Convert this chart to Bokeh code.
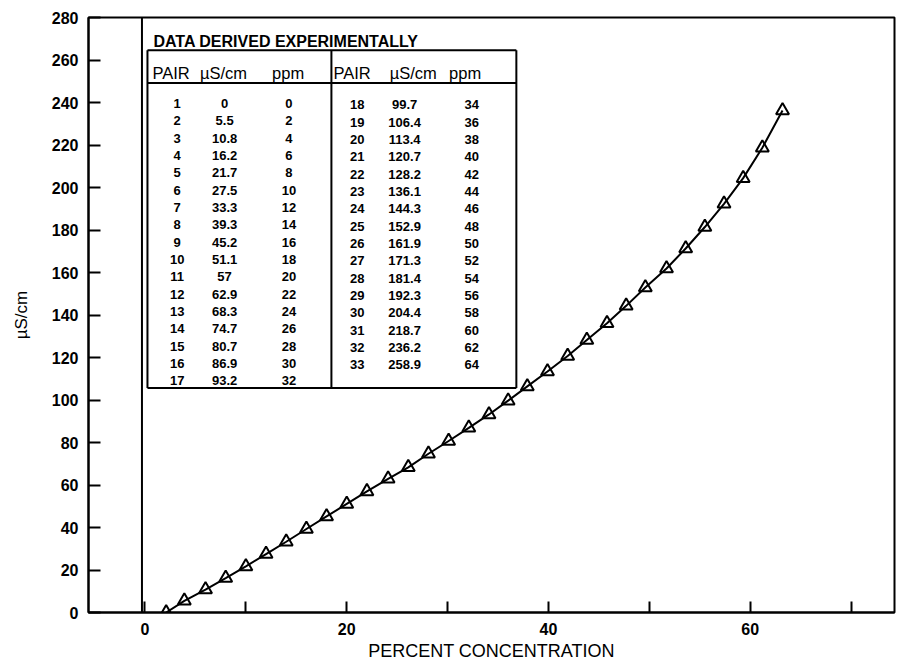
from bokeh.plotting import figure
from bokeh.models import FixedTicker, Range1d, Span
from bokeh.core.properties import value
from bokeh.embed import file_html
from bokeh.resources import INLINE

# ---------------- data ----------------
pair = list(range(1, 34))
us_cm = [0, 5.5, 10.8, 16.2, 21.7, 27.5, 33.3, 39.3, 45.2, 51.1, 57, 62.9, 68.3,
         74.7, 80.7, 86.9, 93.2, 99.7, 106.4, 113.4, 120.7, 128.2, 136.1, 144.3,
         152.9, 161.9, 171.3, 181.4, 192.3, 204.4, 218.7, 236.2, 258.9]
ppm = [0, 2, 4, 6, 8, 10, 12, 14, 16, 18, 20, 22, 24, 26, 28, 30, 32, 34, 36,
       38, 40, 42, 44, 46, 48, 50, 52, 54, 56, 58, 60, 62, 64]
# plotted curve (percent concentration vs uS/cm)
pct_conc = [2.1, 3.9, 6.0, 8.0, 10.0, 12.0, 14.0, 16.0, 18.0, 20.0, 22.0, 24.1,
            26.1, 28.1, 30.1, 32.1, 34.1, 36.0, 37.9, 39.9, 41.9, 43.8, 45.8,
            47.7, 49.6, 51.7, 53.6, 55.5, 57.4, 59.3, 61.2, 63.2]
curve_us = us_cm[:32]
x_ticks = [0, 20, 40, 60]
x_minor_ticks = [10, 30, 50, 70]
y_ticks = [0, 20, 40, 60, 80, 100, 120, 140, 160, 180, 200, 220, 240, 260, 280]

FONT = value("Liberation Sans")

p = figure(width=896, height=663, output_backend="svg", toolbar_location=None,
           x_range=Range1d(-5.6, 74.3), y_range=Range1d(0, 280),
           min_border_left=88, min_border_top=17, min_border_right=2,
           min_border_bottom=50)
p.grid.visible = False
p.outline_line_color = "black"
p.outline_line_width = 2
p.background_fill_color = "white"
p.border_fill_color = "white"

# axes
xa = p.xaxis[0]
xa.ticker = FixedTicker(ticks=x_ticks, minor_ticks=x_minor_ticks)
xa.major_tick_in = 11
xa.major_tick_out = 0
xa.minor_tick_in = 11
xa.minor_tick_out = 0
xa.major_tick_line_width = 2
xa.minor_tick_line_width = 2
xa.axis_line_width = 2
xa.major_label_standoff = 10
xa.axis_label = "PERCENT CONCENTRATION"
xa.axis_label_standoff = 3

ya = p.yaxis[0]
ya.ticker = FixedTicker(ticks=y_ticks)
ya.major_tick_in = 12
ya.major_tick_out = 0
ya.minor_tick_line_color = None
ya.major_tick_line_width = 2
ya.axis_line_width = 2
ya.major_label_standoff = 10
ya.axis_label = "\u00b5S/cm"
ya.axis_label_standoff = 18

for ax in (xa, ya):
    ax.major_label_text_font = "Liberation Sans"
    ax.major_label_text_font_style = "bold"
    ax.major_label_text_font_size = "16px"
    ax.major_label_text_color = "black"
    ax.axis_label_text_font = "Liberation Sans"
    ax.axis_label_text_font_style = "normal"
    ax.axis_label_text_color = "black"
    ax.axis_line_color = "black"
    ax.major_tick_line_color = "black"
xa.axis_label_text_font_size = "18px"
ya.axis_label_text_font_size = "17px"

# vertical line at zero concentration
p.add_layout(Span(location=-0.3, dimension="height", line_color="black", line_width=2))

# curve
p.line(pct_conc, curve_us, line_color="black", line_width=2)
p.scatter(pct_conc, curve_us, marker="triangle", size=13, line_color="black",
          line_width=2, fill_color=None)

# ---------------- table (positions from reference layout) ----------------
def dx(px):
    return (px - 145.5) / 10.2

def dy(py):
    return (616 - py) / 2.139

L, R, T, B = 148, 521, 50, 390
MID, HDR = 334, 83
p.segment(x0=[dx(L), dx(L), dx(L), dx(R), dx(MID), dx(L)],
          y0=[dy(T), dy(B), dy(T), dy(T), dy(T), dy(HDR)],
          x1=[dx(R), dx(R), dx(L), dx(R), dx(MID), dx(R)],
          y1=[dy(T), dy(B), dy(B), dy(B), dy(B), dy(HDR)],
          line_color="black", line_width=2)

p.text(x=[dx(154)], y=[dy(41.5)], text=["DATA DERIVED EXPERIMENTALLY"],
       text_font=FONT, text_font_style="bold", text_font_size="16px",
       text_align="left", text_baseline="alphabetic", text_color="black")

hdr_x = [153, 201, 274, 336, 393, 453]
hdr_t = ["PAIR", "\u00b5S/cm", "ppm", "PAIR", "\u00b5S/cm", "ppm"]
p.text(x=[dx(v) for v in hdr_x], y=[dy(73)] * 6, text=hdr_t,
       text_font=FONT, text_font_size="16.5px", text_align="left",
       text_baseline="alphabetic", text_color="black")

def fmt(v):
    return str(v) if not float(v).is_integer() else str(int(v))

rows_left = 17
ly = [dy(103.5 + 17.46 * i) for i in range(rows_left)]
ry = [dy(105 + 17.45 * i) for i in range(len(pair) - rows_left)]
cols = [
    (178, ly, [str(v) for v in pair[:rows_left]]),
    (226, ly, [fmt(v) for v in us_cm[:rows_left]]),
    (291, ly, [str(v) for v in ppm[:rows_left]]),
    (360, ry, [str(v) for v in pair[rows_left:]]),
    (408, ry, [fmt(v) for v in us_cm[rows_left:]]),
    (476, ry, [str(v) for v in ppm[rows_left:]]),
]
for cx, ys, txt in cols:
    p.text(x=[dx(cx)] * len(txt), y=ys, text=txt, text_font=FONT,
           text_font_style="bold", text_font_size="13px", text_align="center",
           text_baseline="alphabetic", text_color="black")

open("out.html", "w").write(file_html(p, INLINE))
